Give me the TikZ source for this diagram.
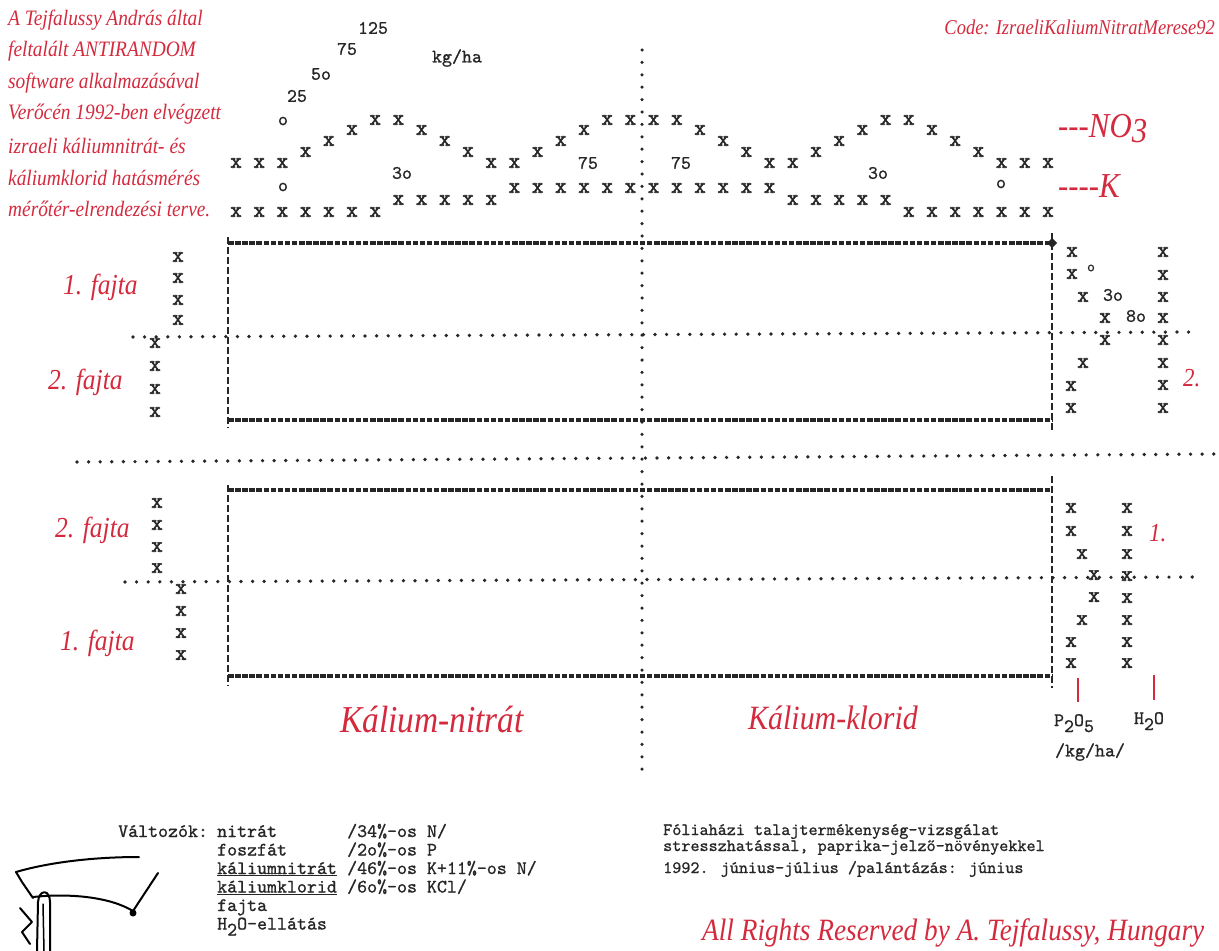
\documentclass[tikz,border=0pt]{standalone}
\usepackage{fontspec}
\newfontfamily\redfont[FakeStretch=0.88]{Liberation Serif}
\newfontfamily\twfont[FakeBold=0.9]{lmmono10-regular.otf}
\newfontfamily\xfont[FakeBold=2.4]{lmmono10-regular.otf}
\definecolor{inkred}{RGB}{212,42,62}
\definecolor{ink}{RGB}{38,38,38}
\newcommand{\fsz}[1]{\fontsize{#1}{#1}\selectfont}
\newcommand{\lowered}[1]{\raisebox{-6pt}{#1}}
\begin{document}
\begin{tikzpicture}[x=1pt,y=-1pt,
  redtxt/.style={text=inkred,inner sep=0pt,font={\redfont\itshape\fsz{#1}}},
  tw/.style={text=ink,inner sep=0pt,font={\twfont\fsz{#1}}},
  xm/.style={text=ink,inner sep=0pt,font={\xfont\fsz{22}}},
  dotrow/.style={draw=ink,line width=3.7pt,line cap=round,dash pattern=on 0pt off 11.6pt},
  dotcol/.style={draw=ink,line width=3.5pt,line cap=round,dash pattern=on 0pt off 12.4pt},
  edgeh/.style={draw=ink,line width=3.2pt,dash pattern=on 5.5pt off 1.6pt},
  edgev/.style={draw=ink,line width=2.5pt,dash pattern=on 7pt off 3pt},
  redtick/.style={draw=inkred,line width=2.6pt},
  sig/.style={draw=black,line width=2pt,line cap=round,line join=round}
]
\useasboundingbox (0,0) rectangle (1219,951);
\fill[white] (0,0) rectangle (1219,951);

% ---------- heading texts ----------
\foreach \t [count=\i] in {A Tejfalussy András által,feltalált ANTIRANDOM,
  software alkalmazásával,Verőcén 1992-ben elvégzett,izraeli káliumnitrát- és,
  káliumklorid hatásmérés,mérőtér-elrendezési terve.}
  \node[redtxt=22,anchor=west] (head\i) at (8,{20+31.5*(\i-1)}) {\t};
\node[redtxt=21,anchor=east] (code) at (1215,27) {Code: IzraeliKaliumNitratMerese92};
\node[redtxt=35,anchor=west] (no3) at (1058,129) {---NO\raisebox{-5pt}{3}};
\node[redtxt=35,anchor=west] (klab) at (1058,186) {----K};

% ---------- dose scale ----------
\node[tw=19] (s0) at (283,121) {o};
\node[tw=19] (s25) at (297,96) {25};
\node[tw=19] (s50) at (321,74) {5o};
\node[tw=19] (s75) at (347,49) {75};
\node[tw=19] (s125) at (373,28) {125};
\node[tw=19] (kgha) at (457,58) {kg/ha};

% ---------- NO3 and K rows ----------
\foreach \k/\n/\kk in {0/120/188,1/120/188,2/130/188,3/141/188,4/152/188,5/163/188,
  6/163/200,7/152/200,8/141/200,9/130/200,10/120/200,
  11/120/212,12/130/212,13/141/212,14/152/212,15/163/212,16/163/212,17/163/212}{
  \pgfmathsetmacro\dx{11.6+23.2*\k}
  \node[xm] (nl\k) at (642-\dx,\n) {x};
  \node[xm] (nr\k) at (642+\dx,\n) {x};
  \node[xm] (kl\k) at (642-\dx,\kk) {x};
  \node[xm] (kr\k) at (642+\dx,\kk) {x};
}
\node[tw=19] (l30) at (402,173) {3o};
\node[tw=19] (r30) at (878,173) {3o};
\node[tw=19] (l75) at (588,163) {75};
\node[tw=19] (r75) at (681,163) {75};
\node[tw=19] (lo) at (283,187) {o};
\node[tw=19] (ro) at (1001,184) {o};

% ---------- centre line and plots ----------
\coordinate (ctop) at (642,50);
\coordinate (cbot) at (642,776);
\draw[dotcol] (ctop) -- (cbot);

\coordinate (utl) at (228,243); \coordinate (utr) at (1052,243);
\coordinate (ubl) at (228,420); \coordinate (ubr) at (1052,420);
\draw[edgeh] (utl) -- (utr);
\draw[edgeh] (ubl) -- (ubr);
\draw[edgev] ([yshift=6pt]utl) -- ([yshift=-8pt]ubl);
\draw[edgev] ([yshift=10pt]utr) -- ([yshift=-10pt]ubr);
\fill[ink] (utr) ++(-5,0) -- ++(5,-5) -- ++(5,5) -- ++(-5,5) -- cycle;

\coordinate (ltl) at (228,490); \coordinate (ltr) at (1052,490);
\coordinate (lbl) at (228,676); \coordinate (lbr) at (1052,676);
\draw[edgeh] (ltl) -- (ltr);
\draw[edgeh] (lbl) -- (lbr);
\draw[edgev] ([yshift=5pt]ltl) -- ([yshift=-10pt]lbl);
\draw[edgev] ([yshift=14pt]ltr) -- ([yshift=-12pt]lbr);

\coordinate (um1) at (133,337); \coordinate (um2) at (1193,332);
\coordinate (sp1) at (77,462);  \coordinate (sp2) at (1217,454);
\coordinate (lm1) at (125,582); \coordinate (lm2) at (1193,577);
\draw[dotrow] (um1) -- (um2);
\draw[dotrow] (sp1) -- (sp2);
\draw[dotrow] (lm1) -- (lm2);

% ---------- left side: varieties ----------
\node[redtxt=29,anchor=west] (f1u) at (63,287) {1. fajta};
\node[redtxt=29,anchor=west] (f2u) at (48,382) {2. fajta};
\node[redtxt=29,anchor=west] (f2l) at (55,530) {2. fajta};
\node[redtxt=29,anchor=west] (f1l) at (60,643) {1. fajta};
\foreach \y [count=\i] in {257,278,300,320} \node[xm] (ca\i) at (178,\y) {x};
\foreach \y [count=\i] in {343,366,389,412} \node[xm] (cb\i) at (155,\y) {x};
\foreach \y [count=\i] in {503,525,547,568} \node[xm] (cc\i) at (157,\y) {x};
\foreach \y [count=\i] in {589,611,633,655} \node[xm] (cd\i) at (181,\y) {x};

% ---------- right side: P2O5 and water ----------
\foreach \x/\y [count=\i] in {1072/252,1072/274,1083/297,1105/318,1105/340,1083/363,1071/386,1071/408}
  \node[xm] (pu\i) at (\x,\y) {x};
\foreach \y [count=\i] in {252,275,297,318,340,363,385,408} \node[xm] (hu\i) at (1163,\y) {x};
\node[tw=15] (pu0) at (1091,268) {o};
\node[tw=19] (pu30) at (1113,295) {3o};
\node[tw=19] (pu80) at (1136,316) {8o};
\node[redtxt=26,anchor=west] (w2) at (1183,378) {2.};

\foreach \x/\y [count=\i] in {1071/508,1071/531,1082/554,1094/575,1094/597,1082/620,1071/642,1071/663}
  \node[xm] (pl\i) at (\x,\y) {x};
\foreach \y [count=\i] in {508,531,554,576,598,620,642,663} \node[xm] (hl\i) at (1127,\y) {x};
\node[redtxt=26,anchor=west] (w1) at (1149,533) {1.};

\coordinate (tp1) at (1078,678); \coordinate (tp2) at (1078,702);
\coordinate (th1) at (1154,675); \coordinate (th2) at (1154,700);
\draw[redtick] (tp1) -- (tp2);
\draw[redtick] (th1) -- (th2);
\node[tw=19,anchor=base] (p2o5) at (1074,726) {P\lowered{2}O\lowered{5}};
\node[tw=19,anchor=base] (h2o) at (1149,724) {H\lowered{2}O};
\node[tw=19] (unit) at (1090,752) {/kg/ha/};

% ---------- treatment names ----------
\node[redtxt=38] (kn) at (432,720) {Kálium-nitrát};
\node[redtxt=34] (kk) at (833,718) {Kálium-klorid};

% ---------- variables ----------
\node[tw=19,anchor=base west] (v0) at (118,837) {Változók:};
\node[tw=19,anchor=base west] (va1) at (217,837) {nitrát};
\node[tw=19,anchor=base west] (vb1) at (347,837) {/34\%-os N/};
\node[tw=19,anchor=base west] (va2) at (217,855.5) {foszfát};
\node[tw=19,anchor=base west] (vb2) at (347,855.5) {/2o\%-os P};
\node[tw=19,anchor=base west] (va3) at (217,874) {\underline{káliumnitrát}};
\node[tw=19,anchor=base west] (vb3) at (347,874) {/46\%-os K+11\%-os N/};
\node[tw=19,anchor=base west] (va4) at (217,892.5) {\underline{káliumklorid}};
\node[tw=19,anchor=base west] (vb4) at (347,892.5) {/6o\%-os KCl/};
\node[tw=19,anchor=base west] (va5) at (217,911) {fajta};
\node[tw=19,anchor=base west] (va6) at (217,929.5) {H\lowered{2}O-ellátás};

\node[tw=17.3,anchor=base west] (t1) at (663,835) {Fóliaházi talajtermékenység-vizsgálat};
\node[tw=17.3,anchor=base west] (t2) at (663,851) {stresszhatással, paprika-jelző-növényekkel};
\node[tw=17.3,anchor=base west] (t3) at (663,873) {1992. június-július /palántázás: június};
\node[redtxt=31,anchor=west] (rights) at (702,933) {All Rights Reserved by A. Tejfalussy, Hungary};

% ---------- signature ----------
\draw[sig] (16,872) .. controls (50,862) and (95,857) .. (139,857);
\draw[sig] (16,872) -- (22,882) -- (33,898);
\draw[sig] (33,897) .. controls (70,893) and (110,897) .. (133,911);
\draw[sig] (133,911) -- (158,873);
\fill (133,913) circle (3.5);
\draw[sig] (37,951) -- (38,902) .. controls (39,889) and (50,889) .. (50,902) -- (50,951);
\draw[sig,line width=1.5pt] (43,904) -- (44,951);
\draw[sig] (20,908) -- (32,922) -- (22,932) -- (30,944);
\end{tikzpicture}
\end{document}
